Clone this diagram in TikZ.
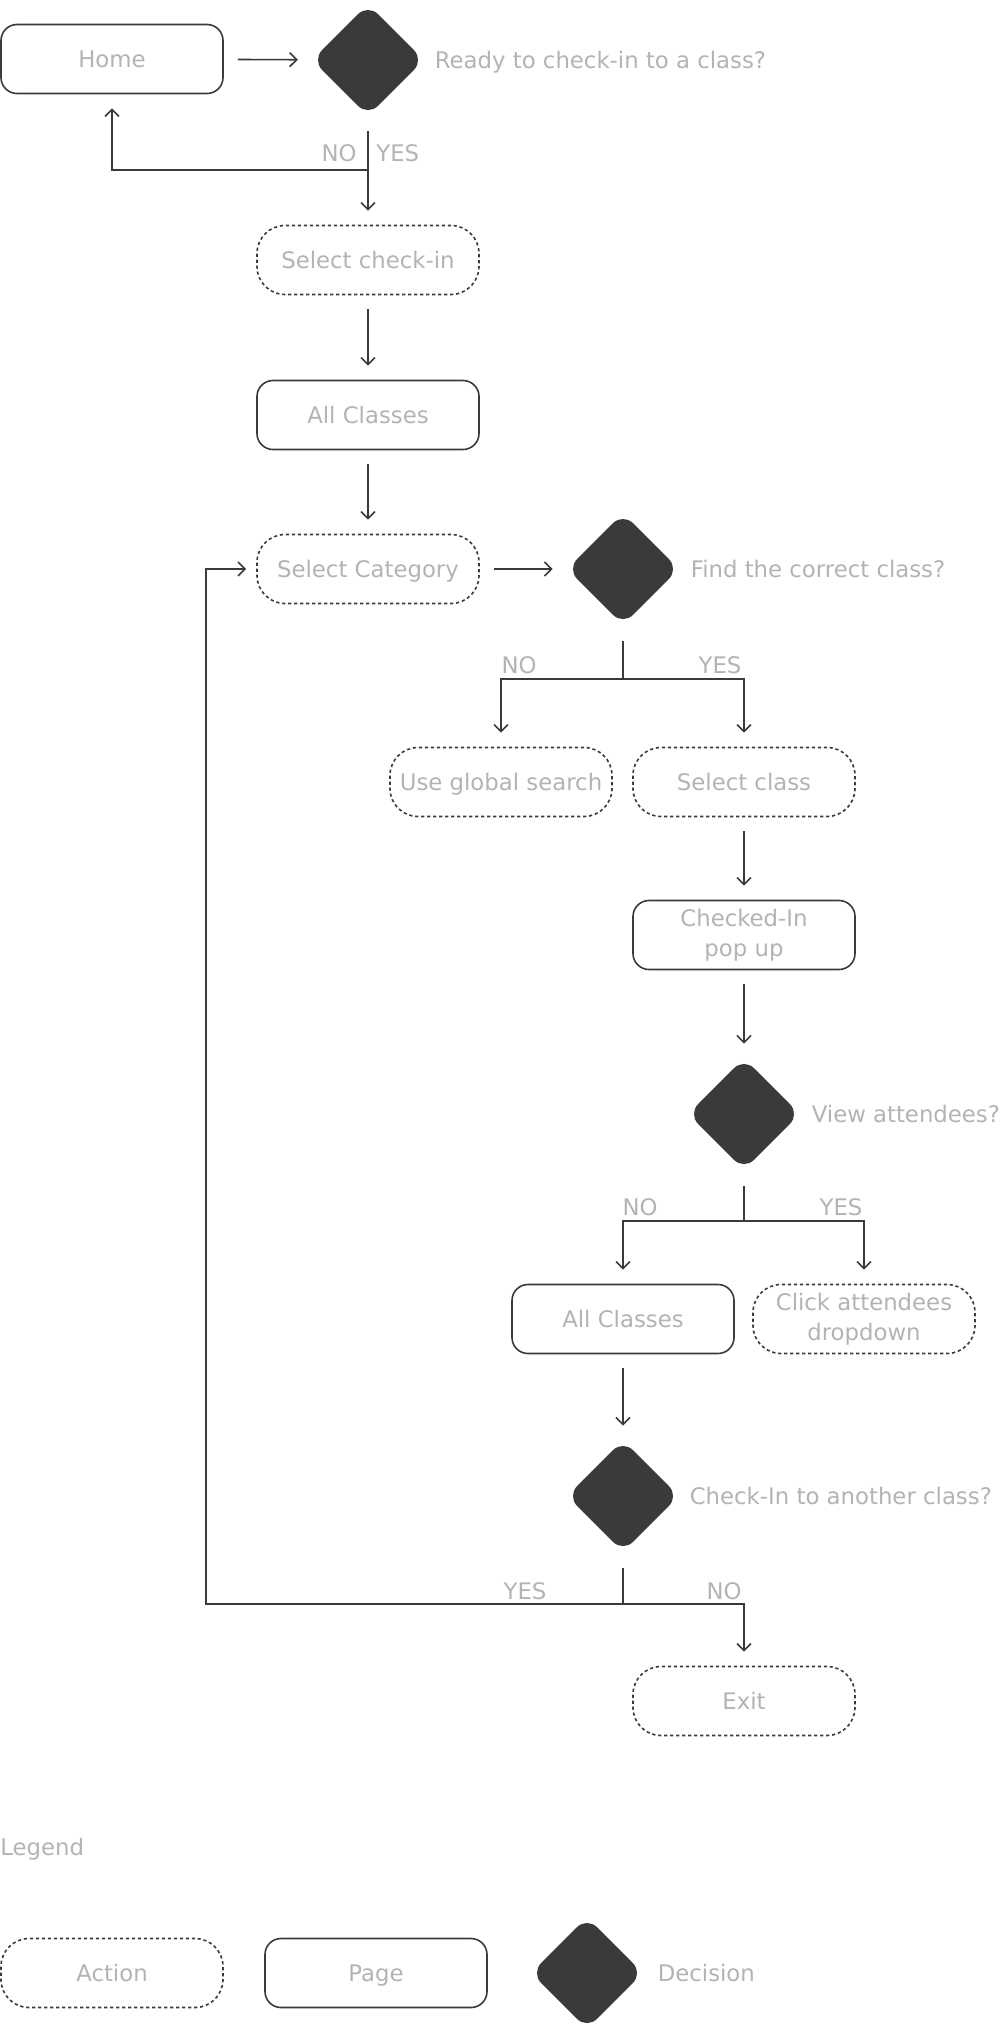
\documentclass[tikz,border=0pt]{standalone}
\usepackage{fontspec}
\setmainfont{DejaVu Sans}
\usetikzlibrary{shapes.geometric,positioning,arrows.meta}
\definecolor{ink}{HTML}{3A3A3A}
\definecolor{txt}{HTML}{B3B3B3}

\begin{document}
\begin{tikzpicture}[
    x=0.5pt, y=-0.5pt,
    font=\fontsize{11.4}{15}\selectfont,
    basebox/.style={rectangle, draw=ink, line width=0.8pt, minimum width=111pt, minimum height=34.5pt, inner sep=0pt, align=center, text=txt, text height=8pt, text depth=0pt},
    twolines/.style={text height={}, text depth={}},
    pagebox/.style={basebox, rounded corners=8pt},
    actbox/.style={basebox, rounded corners=14pt, dash pattern=on 1.6pt off 1.4pt},
    decision/.style={diamond, fill=ink, minimum width=56pt, minimum height=56pt, rounded corners=7pt, inner sep=0pt},
    question/.style={text=txt, inner sep=0pt, text height=8pt, text depth=0pt},
    lbl/.style={text=txt, inner sep=0pt, text height=8pt, text depth=0pt},
    wire/.style={draw=ink, line width=0.8pt},
    flow/.style={wire, -{Straight Barb[length=3.5pt,width=7pt]}, shorten >=7pt, shorten <=7pt}
]
\useasboundingbox (0,0) rectangle (1000,2031);

% nodes
\node[pagebox] (home) at (112,59) {Home};
\node[decision] (ready) at (368,60) {};
\node[question, right=5pt of ready] (readyq) {Ready to check-in to a class?};
\node[actbox] (selcheck) at (368,260) {Select check-in};
\node[pagebox] (allcls) at (368,415) {All Classes};
\node[actbox] (selcat) at (368,569) {Select Category};
\node[decision] (find) at (623,569) {};
\node[question, right=5.5pt of find] (findq) {Find the correct class?};
\node[actbox] (search) at (501,782) {Use global search};
\node[actbox] (selcls) at (744,782) {Select class};
\node[pagebox, twolines] (popup) at (744,935) {Checked-In\\pop up};
\node[decision] (view) at (744,1114) {};
\node[question, right=5.5pt of view] (viewq) {View attendees?};
\node[pagebox] (allcls2) at (623,1319) {All Classes};
\node[actbox, twolines] (attend) at (864,1319) {Click attendees\\dropdown};
\node[decision] (again) at (623,1496) {};
\node[question, right=5pt of again] (againq) {Check-In to another class?};
\node[actbox] (exit) at (744,1701) {Exit};

% branch points
\coordinate (readyj) at (368,170);
\coordinate (findj) at (623,679);
\coordinate (viewj) at (744,1221);
\coordinate (againj) at (623,1604);
\coordinate (loop) at (206,1604);

% connectors
\draw[flow] (home) -- (ready);
\draw[wire, shorten <=7.5pt] (ready) -- (readyj);
\draw[flow, shorten <=0pt] (readyj) -- (selcheck);
\draw[flow, shorten <=0pt] (readyj) -| (home);
\draw[flow] (selcheck) -- (allcls);
\draw[flow] (allcls) -- (selcat);
\draw[flow] (selcat) -- (find);
\draw[wire, shorten <=8pt] (find) -- (findj);
\draw[flow, shorten <=0pt] (findj) -| (search);
\draw[flow, shorten <=0pt] (findj) -| (selcls);
\draw[flow] (selcls) -- (popup);
\draw[flow] (popup) -- (view);
\draw[wire, shorten <=8pt] (view) -- (viewj);
\draw[flow, shorten <=0pt] (viewj) -| (allcls2);
\draw[flow, shorten <=0pt] (viewj) -| (attend);
\draw[flow] (allcls2) -- (again);
\draw[wire, shorten <=8pt] (again) -- (againj);
\draw[flow, shorten <=0pt] (againj) -| (exit);
\draw[flow, shorten <=0pt, shorten >=5pt] (againj) -- (loop) |- (selcat);

% branch labels
\node[lbl, anchor=east] (readyno) at (357,153) {NO};
\node[lbl, anchor=west] (readyyes) at (376,153) {YES};
\node[lbl] (findno) at (519,665) {NO};
\node[lbl] (findyes) at (720,665) {YES};
\node[lbl] (viewno) at (640,1207) {NO};
\node[lbl] (viewyes) at (841,1207) {YES};
\node[lbl] (againyes) at (525,1591) {YES};
\node[lbl] (againno) at (724,1591) {NO};

% legend
\node[lbl, anchor=west] (legend) at (0,1847) {Legend};
\node[actbox] (keyaction) at (112,1973) {Action};
\node[pagebox] (keypage) at (376,1973) {Page};
\node[decision] (keydec) at (587,1973) {};
\node[question, right=7pt of keydec] (keydecq) {Decision};
\end{tikzpicture}
\end{document}
